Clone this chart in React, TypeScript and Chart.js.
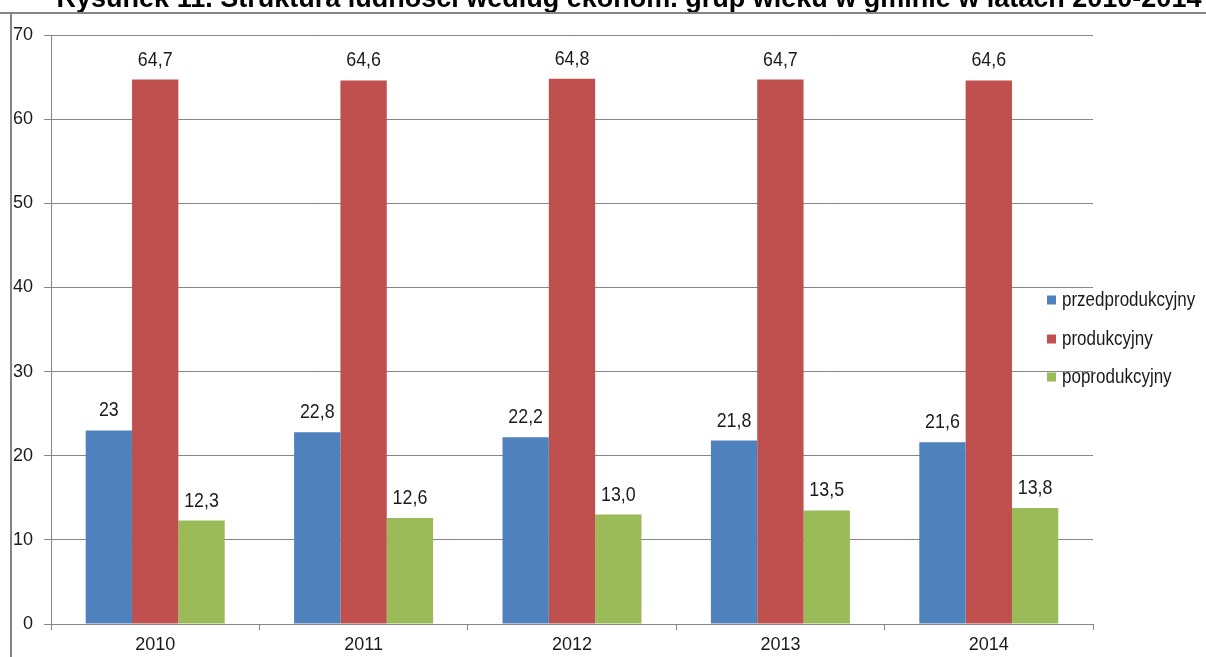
import React, { useEffect, useRef } from "react";
import { Chart, registerables } from "chart.js";

Chart.register(...registerables);

const TITLE = "Rysunek 11. Struktura ludności według ekonom. grup wieku w gminie w latach 2010-2014";
const categories = ["2010", "2011", "2012", "2013", "2014"];
const seriesNames = ["przedprodukcyjny", "produkcyjny", "poprodukcyjny"];
const przed = [23, 22.8, 22.2, 21.8, 21.6];
const prod = [64.7, 64.6, 64.8, 64.7, 64.6];
const popro = [12.3, 12.6, 13.0, 13.5, 13.8];
const przedLabels = ["23", "22,8", "22,2", "21,8", "21,6"];
const prodLabels = ["64,7", "64,6", "64,8", "64,7", "64,6"];
const poproLabels = ["12,3", "12,6", "13,0", "13,5", "13,8"];
const colors = ["#4F81BD", "#C0504D", "#9BBB59"];

const FONT = "'Liberation Sans', Arial, sans-serif";
const SX = 0.85;

export default function App() {
  const ref = useRef<HTMLCanvasElement>(null);
  useEffect(() => {
    if (!ref.current) return;
    const labelSets = [przedLabels, prodLabels, poproLabels];
    const narrowText = (ctx: any, text: string, x: number, y: number) => {
      ctx.save();
      ctx.translate(x, y);
      ctx.scale(SX, 1);
      ctx.fillText(text, 0, 0);
      ctx.restore();
    };
    const decor = {
      id: "decor",
      beforeDraw(chart: any) {
        const ctx = chart.ctx;
        ctx.save();
        ctx.fillStyle = "#fff";
        ctx.fillRect(0, 0, chart.width, chart.height);
        ctx.fillStyle = "#000";
        ctx.font = `bold 27px ${FONT}`;
        ctx.textAlign = "center";
        ctx.textBaseline = "alphabetic";
        ctx.fillText(TITLE, 629, 7);
        ctx.strokeStyle = "#858585";
        ctx.lineWidth = 2;
        ctx.beginPath();
        ctx.moveTo(0, 13);
        ctx.lineTo(chart.width, 13);
        ctx.moveTo(11, 13);
        ctx.lineTo(11, chart.height);
        ctx.stroke();
        ctx.restore();
      },
      afterDatasetsDraw(chart: any) {
        const ctx = chart.ctx;
        ctx.save();
        ctx.font = `21px ${FONT}`;
        ctx.fillStyle = "#1a1a1a";
        ctx.textAlign = "center";
        ctx.textBaseline = "alphabetic";
        chart.data.datasets.forEach((ds: any, i: number) => {
          const meta = chart.getDatasetMeta(i);
          meta.data.forEach((el: any, j: number) => {
            narrowText(ctx, labelSets[i][j], el.x, el.y - 14);
          });
        });
        // legend
        ctx.font = `20px ${FONT}`;
        ctx.textAlign = "left";
        ctx.textBaseline = "middle";
        const ys = [300, 339, 377];
        chart.data.datasets.forEach((ds: any, i: number) => {
          ctx.fillStyle = ds.backgroundColor;
          ctx.fillRect(1047, ys[i] - 4.5, 9, 9);
          ctx.fillStyle = "#1a1a1a";
          narrowText(ctx, ds.label, 1062, ys[i]);
        });
        ctx.restore();
      },
    };
    const chart = new Chart(ref.current, {
      type: "bar",
      data: {
        labels: categories,
        datasets: [
          { label: seriesNames[0], data: przed, backgroundColor: colors[0] },
          { label: seriesNames[1], data: prod, backgroundColor: colors[1] },
          { label: seriesNames[2], data: popro, backgroundColor: colors[2] },
        ],
      },
      options: {
        animation: false,
        responsive: false,
        maintainAspectRatio: false,
        layout: { padding: { left: 0, top: 35, right: 113, bottom: 0 } },
        datasets: { bar: { categoryPercentage: 0.667, barPercentage: 1.0 } },
        plugins: { legend: { display: false }, tooltip: { enabled: false }, title: { display: false } },
        scales: {
          x: {
            grid: { offset: true, drawOnChartArea: false, color: "#868686", tickLength: 6, tickColor: "#868686" },
            border: { color: "#868686" },
            ticks: { font: { family: FONT, size: 18 }, color: "#1a1a1a", padding: 4 },
            afterFit(scale: any) { scale.height = 33; },
          },
          y: {
            min: 0,
            max: 70,
            ticks: { stepSize: 10, font: { family: FONT, size: 18 }, color: "#1a1a1a", padding: 11 },
            grid: { color: "#868686", tickLength: 7, tickColor: "#868686" },
            border: { color: "#868686" },
            afterFit(scale: any) { scale.width = 51; },
          },
        },
      },
      plugins: [decor],
    });
    return () => chart.destroy();
  }, []);
  return (
    <div style={{ position: "absolute", left: 0, top: 0, width: 1206, height: 657 }}>
      <canvas ref={ref} width={1206} height={657} style={{ display: "block" }} />
    </div>
  );
}
